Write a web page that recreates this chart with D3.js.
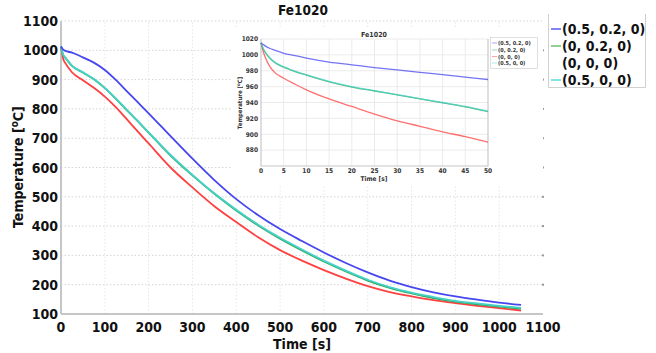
<!DOCTYPE html>
<html>
<head>
<meta charset="utf-8">
<script src="https://cdn.jsdelivr.net/npm/d3@7"></script>
<style>
  body { margin: 0; background: #fff; }
  svg { display: block; font-family: "DejaVu Sans Condensed", "DejaVu Sans", sans-serif; }
</style>
</head>
<body>
<div id="chart"></div>
<script>
// series labels as shown in the legend
const seriesNames = ['(0.5, 0.2, 0)', '(0, 0.2, 0)', '(0, 0, 0)', '(0.5, 0, 0)'];

// main chart, time in s
const mainTime = [0, 5, 10, 25, 50, 75, 100, 125, 150, 175, 200, 250, 300, 350, 400, 450, 500, 550, 600, 650, 700, 750, 800, 850, 900, 950, 1000, 1050];
const mainBlue  = [1013, 1002, 998, 992, 976, 958, 933, 899, 861, 823, 785, 707, 630, 557, 492, 437, 390, 349, 310, 274, 242, 214, 192, 174, 160, 149, 139, 131];
const mainGreen = [1013, 984, 974, 947, 924, 901, 871, 835, 796, 758, 719, 641, 573, 510, 453, 402, 357, 317, 279, 245, 214, 189, 170, 154, 142, 133, 125, 118];
const mainRed   = [1013, 971, 956, 925, 898, 872, 842, 806, 765, 723, 682, 600, 532, 468, 414, 362, 318, 282, 250, 221, 195, 175, 160, 147, 137, 128, 120, 112];
const mainCyan  = [1013, 985, 975, 948, 925, 902, 872, 836, 797, 759, 720, 643, 575, 512, 456, 405, 360, 320, 282, 248, 217, 192, 173, 158, 145, 136, 128, 121];

// inset, first 50 s
const insetTime = [0, 0.5, 1, 2, 3, 5, 7.5, 10, 15, 20, 25, 30, 35, 40, 45, 50];
const insetBlue  = [1015, 1013, 1011, 1008, 1006, 1002, 999, 996, 991, 987.5, 984, 981, 978, 975, 972, 969];
const insetGreen = [1015, 1007.5, 1002.5, 995.5, 990.5, 984.5, 979, 974.5, 966, 959.5, 954.5, 949.5, 944.5, 939.5, 934.5, 928.5];
const insetRed   = [1015, 1004, 996, 985, 978, 970.5, 963, 956, 944.5, 935, 925.5, 917, 910, 903, 897, 890];
const insetCyan  = [1015, 1008, 1003, 996, 991, 985, 979.5, 975, 966.5, 960, 955, 950, 945, 940, 935, 929];

const mainXTicks = [0, 100, 200, 300, 400, 500, 600, 700, 800, 900, 1000, 1100];
const mainYTicks = [100, 200, 300, 400, 500, 600, 700, 800, 900, 1000, 1100];
const insetXTicks = [0, 5, 10, 15, 20, 25, 30, 35, 40, 45, 50];
const insetYTicks = [880, 900, 920, 940, 960, 980, 1000, 1020];

const colors = ['#4646f0', '#2fa85a', '#ff4040', '#45d2c8'];
const legendColors = ['#5a5aee', '#6cc06c', null, '#5adcd8'];

const width = 656, height = 353;
const svg = d3.select('#chart').append('svg')
  .attr('width', width)
  .attr('height', height);

// ---------- main chart ----------
const x = d3.scaleLinear().domain([0, 1100]).range([61, 543]);
const y = d3.scaleLinear().domain([100, 1100]).range([314, 21]);

const grid = svg.append('g');
grid.selectAll('.hg').data(mainYTicks.slice(1))
  .enter().append('line')
  .attr('x1', x(0)).attr('x2', x(1100))
  .attr('y1', d => y(d)).attr('y2', d => y(d))
  .attr('stroke', '#d4d4d4').attr('stroke-dasharray', '1.5,2');
grid.selectAll('.vg').data(mainXTicks.slice(1, -1))
  .enter().append('line')
  .attr('x1', d => x(d)).attr('x2', d => x(d))
  .attr('y1', y(100)).attr('y2', y(1100))
  .attr('stroke', '#e6e6e6').attr('stroke-dasharray', '1.5,2');
grid.selectAll('.rt').data(mainYTicks.slice(1, -1))
  .enter().append('rect')
  .attr('x', x(1100) - 1).attr('y', d => y(d) - 1)
  .attr('width', 2).attr('height', 2)
  .attr('fill', '#999');

// axes lines
svg.append('line')
  .attr('x1', x(0)).attr('x2', x(1100)).attr('y1', y(100)).attr('y2', y(100))
  .attr('stroke', '#c6c6c6').attr('stroke-width', 2);
svg.append('line')
  .attr('x1', x(0)).attr('x2', x(0)).attr('y1', y(100)).attr('y2', y(1100))
  .attr('stroke', '#c6c6c6').attr('stroke-width', 2);

svg.append('g').selectAll('text').data(mainXTicks)
  .enter().append('text')
  .attr('x', d => x(d)).attr('y', 332)
  .attr('text-anchor', 'middle')
  .attr('font-size', 14).attr('font-weight', 'bold').attr('fill', '#111')
  .text(d => d);
svg.append('g').selectAll('text').data(mainYTicks)
  .enter().append('text')
  .attr('x', 58).attr('y', d => y(d) + 5)
  .attr('text-anchor', 'end')
  .attr('font-size', 14).attr('font-weight', 'bold').attr('fill', '#111')
  .text(d => d);

svg.append('text')
  .attr('x', 302).attr('y', 349)
  .attr('text-anchor', 'middle')
  .attr('font-size', 14).attr('font-weight', 'bold').attr('fill', '#111')
  .text('Time [s]');

const yl = svg.append('text')
  .attr('transform', 'translate(23,167) rotate(-90)')
  .attr('text-anchor', 'middle')
  .attr('font-size', 14).attr('font-weight', 'bold').attr('fill', '#111');
yl.append('tspan').text('Temperature [');
yl.append('tspan').attr('dy', -5).attr('font-size', 10).text('o');
yl.append('tspan').attr('dy', 5).text('C]');

svg.append('text')
  .attr('x', 303).attr('y', 15)
  .attr('text-anchor', 'middle')
  .attr('font-size', 13.5).attr('font-weight', 'bold').attr('fill', '#111')
  .text('Fe1020');

const mainSeries = [mainBlue, mainGreen, mainRed, mainCyan];
const mainLine = d3.line()
  .x((d, i) => x(mainTime[i]))
  .y(d => y(d))
  .curve(d3.curveMonotoneX);
// draw red first, then green/cyan, blue last
[2, 1, 3, 0].forEach(k => {
  svg.append('path')
    .attr('d', mainLine(mainSeries[k]))
    .attr('fill', 'none')
    .attr('stroke', colors[k])
    .attr('stroke-width', 1.8);
});

// main legend
const lg = svg.append('g');
lg.append('path')
  .attr('d', 'M548.5,14 V87.5 H645.5 V14')
  .attr('fill', 'none').attr('stroke', '#d0d0d0');
const legY = [29, 46, 63, 80];
seriesNames.forEach((name, i) => {
  if (legendColors[i]) {
    lg.append('line')
      .attr('x1', 551).attr('x2', 561)
      .attr('y1', legY[i]).attr('y2', legY[i])
      .attr('stroke', legendColors[i]).attr('stroke-width', 1.5);
  }
  lg.append('text')
    .attr('x', 562).attr('y', legY[i] + 5)
    .attr('font-size', 14).attr('font-weight', 'bold').attr('fill', '#111')
    .text(name);
});

// ---------- inset ----------
svg.append('rect')
  .attr('x', 231).attr('y', 27).attr('width', 312).attr('height', 159)
  .attr('fill', '#fff');

const ix = d3.scaleLinear().domain([0, 50]).range([261, 488]);
const iy = d3.scaleLinear().domain([860, 1020]).range([166, 39]);

const ig = svg.append('g');
ig.selectAll('.ihg').data(insetYTicks)
  .enter().append('line')
  .attr('x1', ix(0)).attr('x2', ix(50))
  .attr('y1', d => iy(d)).attr('y2', d => iy(d))
  .attr('stroke', '#e6e6e6').attr('stroke-width', 0.8);
ig.selectAll('.ivg').data(insetXTicks.slice(1, -1))
  .enter().append('line')
  .attr('x1', d => ix(d)).attr('x2', d => ix(d))
  .attr('y1', iy(860)).attr('y2', iy(1020))
  .attr('stroke', '#e6e6e6').attr('stroke-width', 0.8);

ig.append('path')
  .attr('d', `M${ix(0)},${iy(1020)} V${iy(860)} H${ix(50)} V${iy(1020)}`)
  .attr('fill', 'none').attr('stroke', '#c8c8c8').attr('stroke-width', 1.2);

ig.selectAll('.ixt').data(insetXTicks)
  .enter().append('text')
  .attr('x', d => ix(d)).attr('y', 173)
  .attr('text-anchor', 'middle')
  .attr('font-size', 6.5).attr('font-weight', 'bold').attr('fill', '#333')
  .text(d => d);
ig.selectAll('.iyt').data(insetYTicks)
  .enter().append('text')
  .attr('x', 258).attr('y', d => iy(d) + 2.3)
  .attr('text-anchor', 'end')
  .attr('font-size', 6.5).attr('font-weight', 'bold').attr('fill', '#333')
  .text(d => d);

ig.append('text')
  .attr('x', 374).attr('y', 181)
  .attr('text-anchor', 'middle')
  .attr('font-size', 6.5).attr('font-weight', 'bold').attr('fill', '#333')
  .text('Time [s]');
ig.append('text')
  .attr('x', 374).attr('y', 37)
  .attr('text-anchor', 'middle')
  .attr('font-size', 7).attr('font-weight', 'bold').attr('fill', '#333')
  .text('Fe1020');
const iyl = ig.append('text')
  .attr('transform', 'translate(242,103) rotate(-90)')
  .attr('text-anchor', 'middle')
  .attr('font-size', 6).attr('font-weight', 'bold').attr('fill', '#333');
iyl.append('tspan').text('Temperature [');
iyl.append('tspan').attr('dy', -2).attr('font-size', 4.5).text('o');
iyl.append('tspan').attr('dy', 2).text('C]');

const insetSeries = [insetBlue, insetGreen, insetRed, insetCyan];
const insetLine = d3.line()
  .x((d, i) => ix(insetTime[i]))
  .y(d => iy(d))
  .curve(d3.curveMonotoneX);
[2, 1, 3, 0].forEach(k => {
  ig.append('path')
    .attr('d', insetLine(insetSeries[k]))
    .attr('fill', 'none')
    .attr('stroke', colors[k])
    .attr('stroke-opacity', 0.75)
    .attr('stroke-width', 1.3);
});

// inset legend
ig.append('rect')
  .attr('x', 490.5).attr('y', 37.5).attr('width', 47).attr('height', 31)
  .attr('fill', '#fff').attr('stroke', '#d8d8d8').attr('stroke-width', 0.8);
const ilegY = [43, 50, 56.5, 63];
seriesNames.forEach((name, i) => {
  ig.append('line')
    .attr('x1', 492).attr('x2', 497)
    .attr('y1', ilegY[i]).attr('y2', ilegY[i])
    .attr('stroke', colors[i]).attr('stroke-opacity', 0.6).attr('stroke-width', 0.8);
  ig.append('text')
    .attr('x', 498).attr('y', ilegY[i] + 2)
    .attr('font-size', 5.5).attr('font-weight', 'bold').attr('fill', '#333')
    .text(name);
});
</script>
</body>
</html>
